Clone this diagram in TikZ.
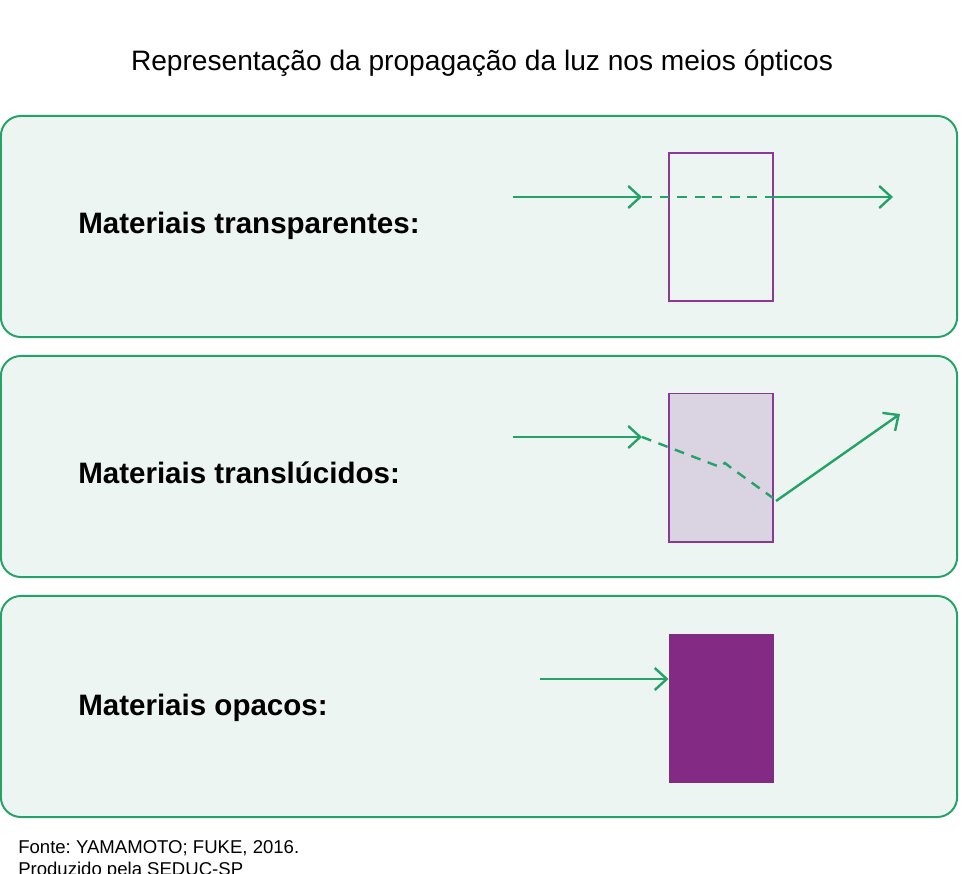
\documentclass[tikz,border=0pt]{standalone}
\usepackage{fontspec}
\setmainfont{Liberation Sans}
\usepackage{tikz}
\usetikzlibrary{arrows.meta,positioning,calc}
\definecolor{raygreen}{RGB}{36,162,104}
\definecolor{panelfill}{RGB}{237,245,242}
\definecolor{matpurple}{RGB}{138,58,150}
\definecolor{matlight}{RGB}{218,211,225}
\definecolor{matdark}{RGB}{130,42,132}
\frenchspacing

\begin{document}
\begin{tikzpicture}[x=0.025cm, y=-0.025cm,
        panel/.style={rectangle, draw=raygreen, fill=panelfill, line width=1.4pt, rounded corners=0.5cm, minimum width=23.9cm, minimum height=5.525cm, inner sep=0pt},
        matbox/.style={rectangle, draw=matpurple, line width=1.4pt, minimum width=2.6cm, minimum height=3.7cm, inner sep=0pt},
        label/.style={anchor=base west, inner sep=0pt, font=\fontsize{21}{25}\selectfont\bfseries},
        footer/.style={anchor=base west, inner sep=0pt, font=\fontsize{13.2}{15.6}\selectfont},
        ray/.style={-{Straight Barb[length=0.3cm, width=0.55cm, line width=1.7pt]}, line width=1.7pt, raygreen},
        raydash/.style={line width=1.7pt, raygreen, dash pattern=on 7pt off 5.5pt}
    ]
    \useasboundingbox (0,0) rectangle (970,873);
    \node[anchor=base, inner sep=0pt, font=\fontsize{20}{24}\selectfont] (title) at (482,71) {Representação da propagação da luz nos meios ópticos};
    % panels
    \node[panel] (p1) at (479,226.5) {};
    \node[panel] (p2) at (479,466.5) {};
    \node[panel] (p3) at (479,706.5) {};
    \node[label] (l1) at (78,233) {Materiais transparentes:};
    \node[label] (l2) at (78,483) {Materiais translúcidos:};
    \node[label] (l3) at (78,715) {Materiais opacos:};
    % materials
    \node[matbox] (b1) at (721,227) {};
    \node[matbox, fill=matlight] (b2) at (721,467.5) {};
    \node[matbox, draw=none, fill=matdark] (b3) at (721.5,708.5) {};
    % transparent
    \coordinate (t1) at (513,197);
    \coordinate (t2) at (642,197);
    \coordinate (t3) at (770,197);
    \coordinate (t4) at (893,197);
    \draw[ray] (t1) -- (t2);
    \draw[raydash] (t2) -- (t3);
    \draw[ray] (t3) -- (t4);
    % translucent
    \coordinate (s1) at (513,437);
    \coordinate (s2) at (642,437);
    \coordinate (s3) at (773,498);
    \coordinate (s4) at (776,501);
    \coordinate (s5) at (900,414);
    \draw[ray] (s1) -- (s2);
    \draw[raydash] (s2) -- (720,467) -- (725,463) -- (730,467) -- (s3);
    \draw[ray] (s4) -- (s5);
    % opaque
    \coordinate (o1) at (540,679);
    \draw[ray] (o1) -- (o1 -| b3.west);
    % source
    \node[footer] (src1) at (18,853) {Fonte: YAMAMOTO; FUKE, 2016.};
    \node[footer] (src2) at (18,875) {Produzido pela SEDUC-SP};
\end{tikzpicture}
\end{document}
